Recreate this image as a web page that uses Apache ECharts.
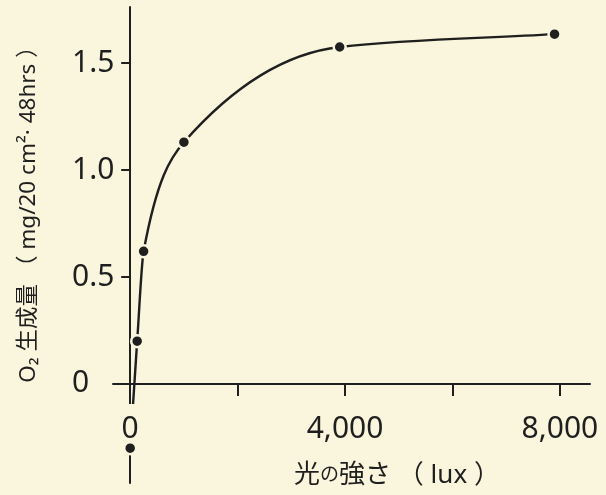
<!DOCTYPE html>
<html>
<head>
<meta charset="utf-8">
<script src="https://cdn.jsdelivr.net/npm/echarts@6/dist/echarts.min.js"></script>
<style>
html,body{margin:0;padding:0;background:#f9f6dd;}
#chart{width:606px;height:495px;}
</style>
</head>
<body>
<div id="chart"></div>
<script>
// data (light intensity in lux, O2 production)
const lightLux = [0, 130, 250, 1000, 3900, 7900];
const o2Production = [-0.30, 0.20, 0.62, 1.13, 1.575, 1.635];
const xTickValues = [2000, 4000, 6000, 8000];
const xLabelValues = [0, 4000, 8000];
const yTickValues = [0.5, 1.0, 1.5];
const yLabelValues = [0, 0.5, 1.0, 1.5];
const xTitle = '{a|光}{b|の}{a|強さ （ lux ）}';
const yTitle = 'O₂ 生成量 （ mg/20 cm²· 48hrs ）';

const BG = '#f9f6dd';
const INK = '#1f1f1f';
const FONT = '"Noto Sans", "Noto Sans CJK JP", sans-serif';

const chart = echarts.init(document.getElementById('chart'), null, {renderer: 'canvas'});
const points = lightLux.map((x, i) => [x, o2Production[i]]);

// monotone cubic (Fritsch-Carlson) path through pixel points
function monotonePath(pts) {
  const n = pts.length;
  const h = [], d = [], m = [];
  for (let i = 0; i < n - 1; i++) {
    h[i] = pts[i + 1][0] - pts[i][0];
    d[i] = (pts[i + 1][1] - pts[i][1]) / h[i];
  }
  m[0] = d[0];
  m[n - 1] = d[n - 2];
  for (let i = 1; i < n - 1; i++) {
    if (d[i - 1] * d[i] <= 0) m[i] = 0;
    else m[i] = 3 * (h[i - 1] + h[i]) / ((2 * h[i] + h[i - 1]) / d[i - 1] + (h[i] + 2 * h[i - 1]) / d[i]);
  }
  let s = 'M' + pts[0][0] + ' ' + pts[0][1];
  for (let i = 0; i < n - 1; i++) {
    const c1x = pts[i][0] + h[i] / 3, c1y = pts[i][1] + m[i] * h[i] / 3;
    const c2x = pts[i + 1][0] - h[i] / 3, c2y = pts[i + 1][1] - m[i + 1] * h[i] / 3;
    s += ' C' + c1x + ' ' + c1y + ' ' + c2x + ' ' + c2y + ' ' + pts[i + 1][0] + ' ' + pts[i + 1][1];
  }
  return s;
}

chart.setOption({
  backgroundColor: BG,
  animation: false,
  grid: {left: 113, right: 16, top: 7, bottom: 12, containLabel: false, outerBoundsMode: 'none'},
  xAxis: {
    type: 'value',
    min: -320,
    max: 8560,
    z: 4,
    splitLine: {show: false},
    axisLine: {show: true, onZero: true, lineStyle: {color: INK, width: 2}},
    axisTick: {show: true, customValues: xTickValues, length: 12, inside: false, lineStyle: {color: INK, width: 2}},
    axisLabel: {
      show: true,
      customValues: xLabelValues,
      margin: -79,
      color: INK,
      fontFamily: FONT,
      fontSize: 30,
      backgroundColor: BG,
      padding: [10, 3, 1, 3],
      formatter: v => v === 0 ? '0' : v.toLocaleString('en-US')
    }
  },
  yAxis: {
    type: 'value',
    min: -0.463,
    max: 1.762,
    splitLine: {show: false},
    axisLine: {show: true, onZero: true, lineStyle: {color: INK, width: 2}},
    axisTick: {show: true, customValues: yTickValues, length: 9, lineStyle: {color: INK, width: 2}},
    axisLabel: {
      show: true,
      customValues: yLabelValues,
      margin: 41,
      align: 'left',
      color: INK,
      fontFamily: FONT,
      fontSize: 30,
      formatter: v => v === 0 ? '0' : v.toFixed(1)
    }
  },
  graphic: [
    {
      type: 'text',
      x: 29, y: 209,
      rotation: Math.PI / 2,
      style: {
        text: yTitle,
        fill: INK,
        font: '22.5px ' + FONT,
        textAlign: 'center',
        textVerticalAlign: 'middle'
      }
    },
    {
      type: 'text',
      x: 397, y: 476,
      style: {
        text: xTitle,
        fill: INK,
        textAlign: 'center',
        textVerticalAlign: 'middle',
        rich: {
          a: {fontSize: 26, fontFamily: FONT, fill: INK},
          b: {fontSize: 19, fontFamily: FONT, fill: INK}
        }
      }
    }
  ],
  series: [
    {
      type: 'custom',
      data: points,
      z: 2,
      renderItem: function (params, api) {
        if (params.dataIndex !== 0) return null;
        const px = points.map(p => api.coord(p));
        return {
          type: 'path',
          shape: {pathData: monotonePath(px)},
          style: {fill: null, stroke: INK, lineWidth: 2.4}
        };
      }
    },
    {
      type: 'scatter',
      data: points,
      z: 6,
      symbol: 'circle',
      symbolSize: 12,
      itemStyle: {color: INK, borderColor: BG, borderWidth: 2.5, opacity: 1}
    }
  ]
});
</script>
</body>
</html>
